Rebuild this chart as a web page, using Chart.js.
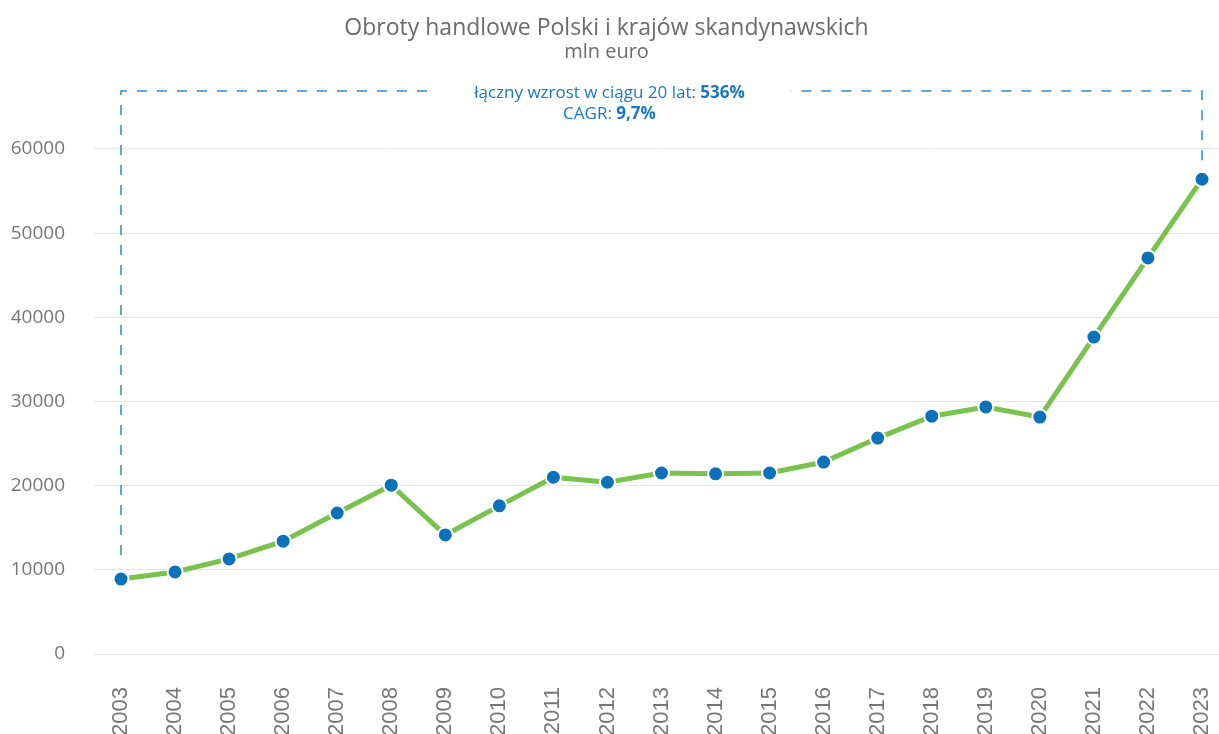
<!DOCTYPE html>
<html>
<head>
<meta charset="utf-8">
<script src="https://cdn.jsdelivr.net/npm/chart.js@4.4.0/dist/chart.umd.min.js"></script>
<style>
  html, body { margin: 0; padding: 0; background: #fff; overflow: hidden; }
  #wrap { width: 1219px; height: 734px; position: relative; }
</style>
</head>
<body>
<div id="wrap"><canvas id="mycanvas"></canvas></div>
<script>
// data (mln euro)
var years = ['2003','2004','2005','2006','2007','2008','2009','2010','2011','2012','2013',
             '2014','2015','2016','2017','2018','2019','2020','2021','2022','2023'];
var turnover = [8900, 9750, 11300, 13400, 16750, 20050, 14150, 17600, 21000, 20400, 21500,
                21400, 21500, 22800, 25650, 28250, 29350, 28150, 37650, 47050, 56400];
var yTicks = [0, 10000, 20000, 30000, 40000, 50000, 60000];
var chartTitle = 'Obroty handlowe Polski i krajów skandynawskich';
var chartSubtitle = 'mln euro';
var growthLabel = 'łączny wzrost w ciągu 20 lat: ';
var growthValue = '536%';
var cagrLabel = 'CAGR: ';
var cagrValue = '9,7%';

// dashed bracket + growth text between first and last point
var bracket = {
  id: 'bracket',
  beforeDatasetsDraw: function(chart){
    // grid lines run on to the right edge
    var ctx = chart.ctx, y = chart.scales.y;
    ctx.save();
    ctx.strokeStyle = '#e6e6e6';
    ctx.lineWidth = 1;
    yTicks.forEach(function(v){
      var py = Math.round(y.getPixelForValue(v) - 0.5) + 0.5;
      ctx.beginPath();
      ctx.moveTo(chart.chartArea.right, py);
      ctx.lineTo(chart.width, py);
      ctx.stroke();
    });
    ctx.restore();
  },
  afterDatasetsDraw: function(chart){
    var ctx = chart.ctx;
    var x = chart.scales.x, y = chart.scales.y;
    var x0 = x.getPixelForValue(0);
    var x1 = x.getPixelForValue(years.length - 1);
    var yTop = chart.chartArea.top + 1;
    var y0 = y.getPixelForValue(turnover[0]) - 24;
    var y1 = y.getPixelForValue(turnover[turnover.length - 1]) - 19;
    var cx = chart.width / 2;

    ctx.save();
    ctx.font = '17px "Open Sans"';
    var w1 = ctx.measureText(growthLabel).width;
    ctx.font = 'bold 17px "Open Sans"';
    var w2 = ctx.measureText(growthValue).width;
    var lineW = w1 + w2;
    var gapL = cx - lineW / 2 - 39;
    var gapR = cx + lineW / 2 + 46;

    ctx.strokeStyle = '#2f8ad0';
    ctx.lineWidth = 1.5;
    ctx.setLineDash([10, 10]);
    ctx.beginPath();
    ctx.moveTo(x0, y0); ctx.lineTo(x0, yTop); ctx.lineTo(gapL, yTop);
    ctx.stroke();
    ctx.beginPath();
    ctx.moveTo(x1, y1); ctx.lineTo(x1, yTop); ctx.lineTo(gapR, yTop);
    ctx.stroke();
    ctx.setLineDash([]);

    ctx.fillStyle = '#1a78c2';
    ctx.textBaseline = 'middle';
    ctx.textAlign = 'left';
    var ty = yTop + 2;
    var sx = cx - lineW / 2;
    ctx.font = '17px "Open Sans"';
    ctx.fillText(growthLabel, sx, ty);
    ctx.font = 'bold 17px "Open Sans"';
    ctx.fillText(growthValue, sx + w1, ty);

    ctx.font = '17px "Open Sans"';
    var c1 = ctx.measureText(cagrLabel).width;
    ctx.font = 'bold 17px "Open Sans"';
    var c2 = ctx.measureText(cagrValue).width;
    var sx2 = cx - (c1 + c2) / 2;
    ctx.font = '17px "Open Sans"';
    ctx.fillText(cagrLabel, sx2, ty + 21);
    ctx.font = 'bold 17px "Open Sans"';
    ctx.fillText(cagrValue, sx2 + c1, ty + 21);
    ctx.restore();
  }
};

var ctx = document.getElementById('mycanvas');
var lineChart = new Chart(ctx, {
  type: 'line',
  data: {
    labels: years,
    datasets: [{
      label: 'obroty',
      data: turnover,
      borderColor: '#79c24d',
      borderWidth: 5,
      backgroundColor: '#0b72b9',
      pointBackgroundColor: '#0b72b9',
      pointBorderColor: '#ffffff',
      pointBorderWidth: 2,
      pointRadius: 7.5,
      tension: 0,
      fill: false
    }]
  },
  options: {
    responsive: true,
    maintainAspectRatio: false,
    animation: false,
    layout: { padding: { left: 11, right: 17, top: 0, bottom: 0 } },
    plugins: {
      legend: { display: false },
      tooltip: { enabled: false },
      title: {
        display: true,
        text: chartTitle,
        color: '#6b6b6b',
        font: { family: 'Open Sans', size: 23, weight: 'normal', lineHeight: 1.0 },
        padding: { top: 17, bottom: 0 }
      },
      subtitle: {
        display: true,
        text: chartSubtitle,
        color: '#6b6b6b',
        font: { family: 'Open Sans', size: 20, weight: 'normal' },
        padding: { top: 0, bottom: 26 }
      }
    },
    scales: {
      x: {
        grid: { display: false, drawTicks: false },
        border: { display: false },
        ticks: {
          color: '#777777',
          font: { family: 'Liberation Sans', size: 22 },
          minRotation: 90,
          maxRotation: 90,
          padding: 33,
          autoSkip: false
        },
        afterFit: function(axis){
          // labels run off the bottom edge like in the original
          axis.paddingLeft = 0;
          axis.paddingRight = 0;
          axis.height = 80;
        }
      },
      y: {
        min: 0,
        max: 67000,
        afterBuildTicks: function(axis){
          axis.ticks = yTicks.map(function(v){ return { value: v }; });
        },
        afterFit: function(axis){
          axis.width = 110;
        },
        grid: { color: '#e6e6e6', lineWidth: 1, drawTicks: true, tickLength: 27 },
        border: { display: false },
        ticks: {
          color: '#777777',
          font: { family: 'Open Sans', size: 19 },
          padding: 29,
          callback: function(v){ return String(v); }
        }
      }
    }
  },
  plugins: [bracket]
});
</script>
</body>
</html>
